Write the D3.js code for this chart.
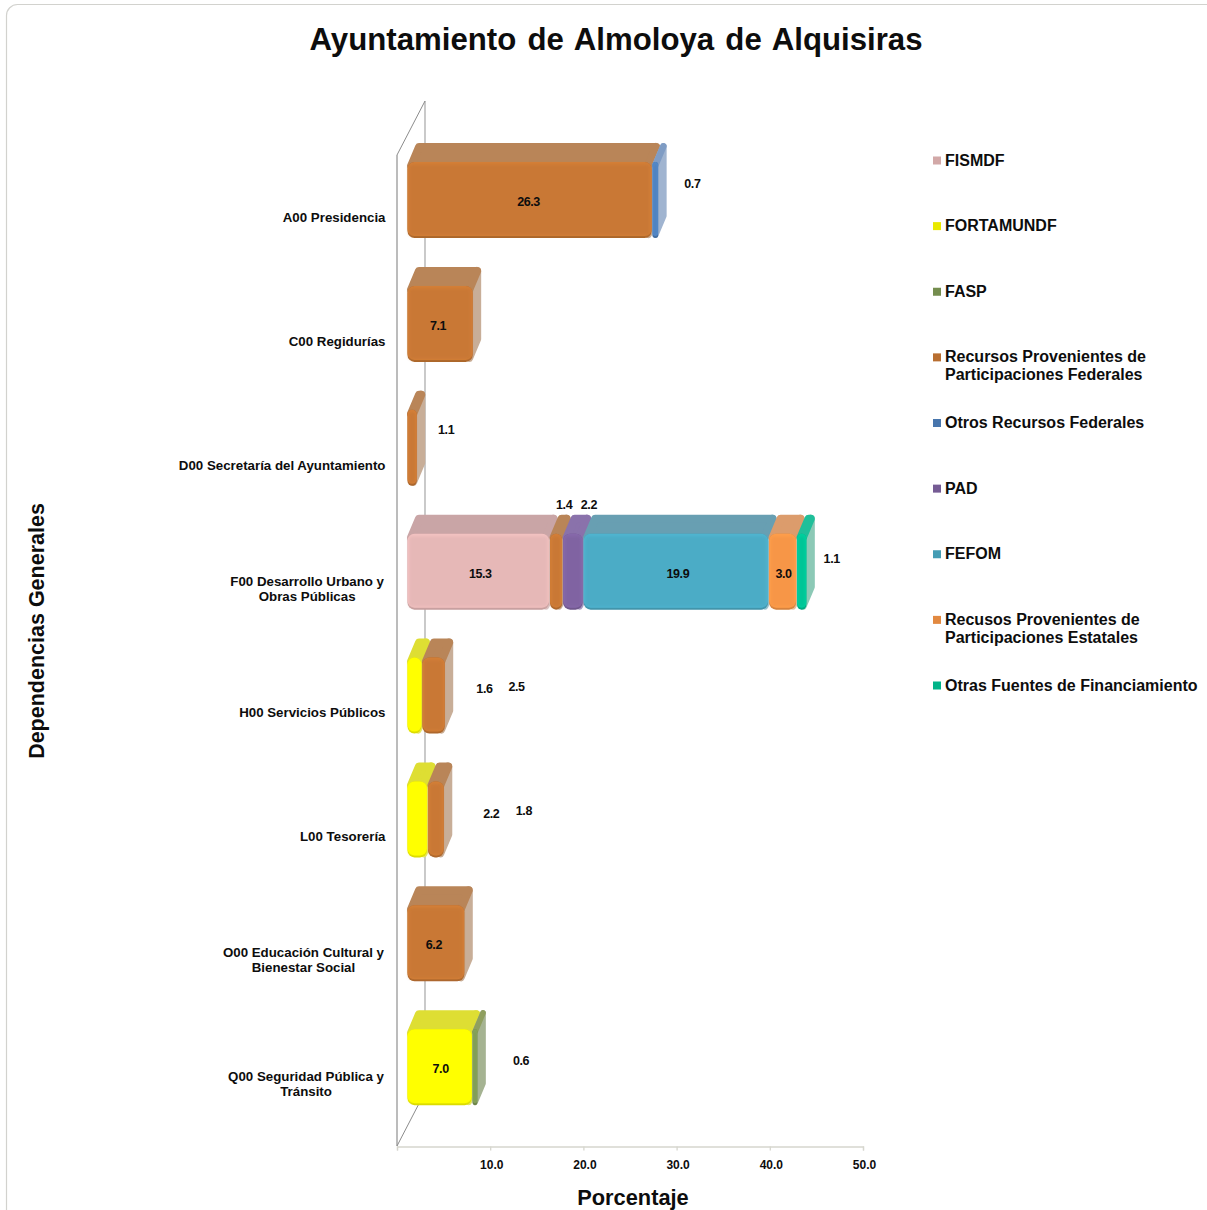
<!DOCTYPE html>
<html>
<head>
<meta charset="utf-8">
<title>Ayuntamiento de Almoloya de Alquisiras</title>
<script src="https://cdn.jsdelivr.net/npm/d3@7"></script>
<style>
  html, body { margin: 0; padding: 0; background: #fff; overflow: hidden; }
  svg { display: block; }
  text { font-family: "Liberation Sans", Arial, sans-serif; font-weight: bold; fill: #0d0d0d; }
</style>
</head>
<body>
<script>
/* global d3 */
(function() {
  'use strict';

  const title = 'Ayuntamiento de Almoloya de Alquisiras';
  const xTitle = 'Porcentaje';
  const yTitle = 'Dependencias Generales';

  const categories = [
    ['A00 Presidencia'],
    ['C00 Regidurías'],
    ['D00 Secretaría del Ayuntamiento'],
    ['F00 Desarrollo Urbano y', 'Obras Públicas'],
    ['H00 Servicios Públicos'],
    ['L00 Tesorería'],
    ['O00 Educación Cultural y', 'Bienestar Social'],
    ['Q00 Seguridad Pública y', 'Tránsito']
  ];

  // one value per category, 0 = the source has nothing there
  const fismdf      = [0, 0, 0, 15.3, 0, 0, 0, 0];
  const fortamundf  = [0, 0, 0, 0, 1.6, 2.2, 0, 7.0];
  const fasp        = [0, 0, 0, 0, 0, 0, 0, 0.6];
  const partFed     = [26.3, 7.1, 1.1, 1.4, 2.5, 1.8, 6.2, 0];
  const otrosFed    = [0.7, 0, 0, 0, 0, 0, 0, 0];
  const pad         = [0, 0, 0, 2.2, 0, 0, 0, 0];
  const fefom       = [0, 0, 0, 19.9, 0, 0, 0, 0];
  const partEst     = [0, 0, 0, 3.0, 0, 0, 0, 0];
  const otrasFuente = [0, 0, 0, 1.1, 0, 0, 0, 0];

  const seriesNames = [
    ['FISMDF'],
    ['FORTAMUNDF'],
    ['FASP'],
    ['Recursos Provenientes de', 'Participaciones Federales'],
    ['Otros Recursos Federales'],
    ['PAD'],
    ['FEFOM'],
    ['Recusos Provenientes de', 'Participaciones Estatales'],
    ['Otras Fuentes de Financiamiento']
  ];
  const seriesValues = [fismdf, fortamundf, fasp, partFed, otrosFed, pad, fefom, partEst, otrasFuente];

  const xTicks = [0, 10, 20, 30, 40, 50];

  const faceColors = ['#e6b8b7', '#ffff00', '#7f9a55', '#c97834', '#4f81bd', '#8064a2', '#4bacc6', '#f79646', '#00c596'];
  const topColors  = ['#c9a5a6', '#dede33', '#8f9f5f', '#b98558', '#7f9cc4', '#8a72ab', '#689fb2', '#dc9c6c', '#1fbf9a'];
  const sideColors = ['#d9c4c4', '#e3e36a', '#a5b392', '#c8ae98', '#a0b4d0', '#a99cc0', '#9cc4d0', '#e3c0a0', '#8cc9b6'];

  // where a value label sits relative to the middle of its segment
  // (category index, series index, dx, dy)
  const labelMoves = [
    [0, 3, -1, 0], [0, 4, 37, -18],
    [1, 3, -2, 0],
    [2, 3, 34, -20],
    [3, 0, 2, 0], [3, 3, 8, -69], [3, 5, 16, -69], [3, 6, 2, 0], [3, 7, 1, 0], [3, 8, 30, -15],
    [4, 1, 70, -9], [4, 3, 83, -11],
    [5, 1, 74, -7], [5, 3, 88, -10],
    [6, 3, -2, 0],
    [7, 1, 1, 0], [7, 2, 46, -8]
  ];

  const w = 1207;
  const h = 1210;

  const xScale = d3.scaleLinear().domain([0, 50]).range([397, 863]);
  const yScale = d3.scaleBand().domain(d3.range(categories.length)).range([155, 1146]);

  const barShift = 10;     // bars start a little off the front wall line
  const barHeight = 76;
  const barTop = 7;
  const depthX = 8;
  const depthY = 19;

  const svg = d3.select('body').append('svg').attr('width', w).attr('height', h);

  const defs = svg.append('defs');
  defs.append('filter').attr('id', 'soft')
    .attr('x', '-30%').attr('y', '-30%').attr('width', '160%').attr('height', '160%')
    .append('feGaussianBlur').attr('stdDeviation', 1.4);

  // card outline, runs off the right and bottom of the picture
  svg.append('rect')
    .attr('x', 6.5).attr('y', 4.5)
    .attr('width', 1240).attr('height', 1240)
    .attr('rx', 11)
    .attr('fill', '#fff')
    .attr('stroke', '#d2d2ce')
    .attr('stroke-width', 1.2);

  svg.append('text')
    .attr('x', 616).attr('y', 50)
    .attr('text-anchor', 'middle')
    .attr('font-size', 31.2)
    .style('word-spacing', '2.5px')
    .text(title);

  // walls of the 3d plot
  const wall = svg.append('g').attr('fill', 'none');
  wall.append('path').attr('d', 'M397,155L397,1146').attr('stroke', '#a6a6a6').attr('stroke-width', 1.5);
  wall.append('path').attr('d', 'M425,101L425,1092').attr('stroke', '#a6a6a6').attr('stroke-width', 1.2);
  wall.append('path').attr('d', 'M397,155L425,101M397,1146L425,1092').attr('stroke', '#8c8c8c').attr('stroke-width', 1);

  // x axis
  const xAxis = d3.axisBottom(xScale)
    .tickValues(xTicks)
    .tickSize(4)
    .tickFormat(d => d === 0 ? '' : d3.format('.1f')(d));
  const xg = svg.append('g')
    .attr('transform', 'translate(0,1146.5)')
    .call(xAxis);
  xg.selectAll('path, line').attr('stroke', '#d6d6ce').attr('stroke-width', 1.3);
  xg.selectAll('text')
    .attr('y', 14)
    .attr('dx', 1)
    .attr('font-size', 12)
    .attr('font-family', '"Liberation Sans", Arial, sans-serif')
    .attr('fill', '#0d0d0d');

  svg.append('text')
    .attr('x', 633).attr('y', 1204.5)
    .attr('text-anchor', 'middle')
    .attr('font-size', 21.8)
    .text(xTitle);

  svg.append('text')
    .attr('transform', 'translate(44,631) rotate(-90)')
    .attr('text-anchor', 'middle')
    .attr('font-size', 21.5)
    .text(yTitle);

  // category labels, several lines are centred on each other
  categories.forEach(function(lines, i) {
    const g = svg.append('g');
    const cy = yScale(i) + yScale.bandwidth() / 2;
    const texts = lines.map(function(line, k) {
      return g.append('text')
        .attr('y', lines.length === 1 ? cy + 5 : cy - 3 + k * 15)
        .attr('font-size', 13.3)
        .text(line);
    });
    const widest = d3.max(texts, t => t.node().getComputedTextLength());
    const right = lines.length === 1 ? 385.5 : 384;
    texts.forEach(t => t.attr('x', right - widest / 2).attr('text-anchor', 'middle'));
  });

  // stack the series per category
  const segments = [];
  categories.forEach(function(c, i) {
    let sum = 0;
    seriesValues.forEach(function(values, s) {
      const v = values[i];
      if (!v) return;
      segments.push({ cat: i, series: s, value: v, from: sum, to: sum + v });
      sum += v;
    });
  });

  const bars = svg.append('g');
  segments.forEach(function(d) {
    const x0 = xScale(d.from) + barShift;
    const x1 = xScale(d.to) + barShift;
    const y0 = yScale(d.cat) + barTop;
    const y1 = y0 + barHeight;
    d.cx = (x0 + x1) / 2;
    d.cy = (y0 + y1) / 2;

    const g = bars.append('g');
    const face = faceColors[d.series];

    // side and top are drawn with a fat round stroke to soften the corners
    const soft = Math.min(4, (x1 - x0) / 2);
    g.append('path')
      .attr('d', d3.line()([
        [x1 - soft, y0 + soft],
        [x1 + depthX - soft, y0 - depthY + soft],
        [x1 + depthX - soft, y1 - depthY - soft],
        [x1 - soft, y1 - soft]
      ]) + 'Z')
      .attr('fill', sideColors[d.series])
      .attr('stroke', sideColors[d.series])
      .attr('stroke-width', soft * 2)
      .attr('stroke-linejoin', 'round');
    g.append('path')
      .attr('d', d3.line()([
        [x0 + soft, y0 + soft],
        [x0 + depthX + soft, y0 - depthY + soft],
        [x1 + depthX - soft, y0 - depthY + soft],
        [x1 - soft, y0 + soft]
      ]) + 'Z')
      .attr('fill', topColors[d.series])
      .attr('stroke', topColors[d.series])
      .attr('stroke-width', soft * 2)
      .attr('stroke-linejoin', 'round');

    // bevelled front: dark rim below, light rim on top, blurred middle
    const fw = Math.max(x1 - x0 - 1, 2);
    const fx = x0 + 0.5;
    const rx = Math.min(7, fw / 2);
    g.append('rect')
      .attr('x', fx).attr('y', y0)
      .attr('width', fw).attr('height', barHeight)
      .attr('rx', rx)
      .attr('fill', d3.color(face).darker(0.45));
    g.append('rect')
      .attr('x', fx).attr('y', y0)
      .attr('width', fw).attr('height', barHeight - 2)
      .attr('rx', rx)
      .attr('fill', d3.color(face).brighter(0.15));
    g.append('rect')
      .attr('x', fx + Math.min(1.5, fw / 4)).attr('y', y0 + 2.5)
      .attr('width', Math.max(fw - Math.min(3, fw / 2), 1)).attr('height', barHeight - 5.5)
      .attr('rx', 3)
      .attr('fill', face)
      .attr('filter', 'url(#soft)');
  });

  // value labels go last so nothing covers them
  svg.append('g').selectAll('text')
    .data(segments)
    .enter()
    .append('text')
    .attr('font-size', 12.5)
    .attr('letter-spacing', -0.4)
    .attr('text-anchor', 'middle')
    .attr('x', function(d) {
      const m = labelMoves.find(l => l[0] === d.cat && l[1] === d.series);
      return d.cx + (m ? m[2] : 0);
    })
    .attr('y', function(d) {
      const m = labelMoves.find(l => l[0] === d.cat && l[1] === d.series);
      return d.cy + 2 + (m ? m[3] : 0) + 4;
    })
    .text(d => d3.format('.1f')(d.value));

  // legend
  const legendY = d3.scaleLinear().domain([0, 8]).range([160, 685]);
  const legend = svg.append('g');
  seriesNames.forEach(function(lines, s) {
    const y = legendY(s);
    legend.append('rect')
      .attr('x', 933).attr('y', y - 3.5)
      .attr('width', 8).attr('height', 8)
      .attr('fill', d3.color(faceColors[s]).darker(0.25));
    lines.forEach(function(line, k) {
      legend.append('text')
        .attr('x', 945)
        .attr('y', y + 5.5 + k * 18)
        .attr('font-size', 16)
        .text(line);
    });
  });
}());
</script>
</body>
</html>
